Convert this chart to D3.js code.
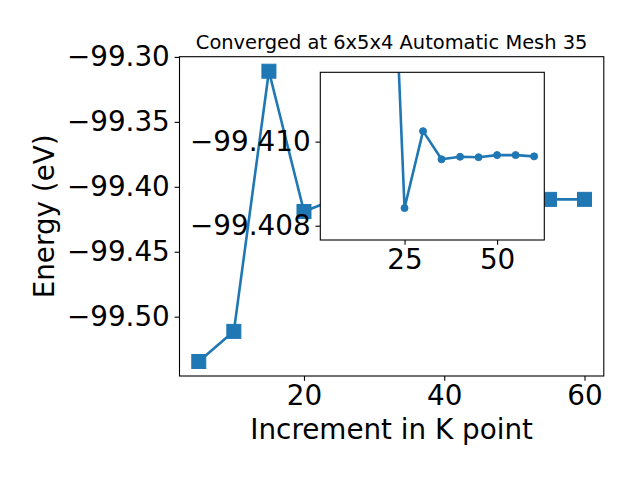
<!DOCTYPE html>
<html><head><meta charset="utf-8">
<script src="https://cdn.jsdelivr.net/npm/d3@7"></script>
<style>
body{margin:0;background:#fff}
text{font-family:"DejaVu Sans",sans-serif;fill:#000}
</style>
</head><body>
<svg id="c" width="640" height="480" xmlns="http://www.w3.org/2000/svg"></svg>
<script>
// ---- data ----
const kpoints = [5, 10, 15, 20, 25, 30, 35, 40, 45, 50, 55, 60];
const energies = [-99.5345, -99.5113, -99.3110, -99.4190, -99.40842, -99.41025,
                  -99.40958, -99.40964, -99.40963, -99.40968, -99.40968, -99.40965];
const insetFromK = 20;
const mainXTicks = [20, 40, 60];
const mainYTicks = [-99.30, -99.35, -99.40, -99.45, -99.50];
const insetXTicks = [25, 50];
const insetYTicks = [-99.410, -99.408];
const insetYLimits = [-99.41165, -99.40766]; // inverted: first at top
const titleText = "Converged at 6x5x4 Automatic Mesh 35";
const xLabel = "Increment in K point";
const yLabel = "Energy (eV)";

// ---- layout ----
const color = "#1f77b4";
const FS = 27.8, TICK = 4.86, PAD = 4.86;
const main = {l: 179.5, r: 603.8, t: 56.7, b: 376};
const ins = {l: 320.3, r: 544.3, t: 72.3, b: 240};

const data = kpoints.map((k, i) => ({k, e: energies[i]}));
const insetData = data.filter(d => d.k >= insetFromK);
const svg = d3.select("#c");

function margin(ext) { const d = (ext[1] - ext[0]) * 0.05; return [ext[0] - d, ext[1] + d]; }
const xDom = margin(d3.extent(kpoints));
const yDom = margin(d3.extent(energies));

const x = d3.scaleLinear().domain(xDom).range([main.l, main.r]);
const y = d3.scaleLinear().domain(yDom).range([main.b, main.t]);
const xi = d3.scaleLinear().domain(xDom).range([ins.l, ins.r]);
const yi = d3.scaleLinear().domain(insetYLimits).range([ins.t, ins.b]);

const defs = svg.append("defs");
defs.append("clipPath").attr("id", "clipMain").append("rect")
  .attr("x", main.l).attr("y", main.t).attr("width", main.r - main.l).attr("height", main.b - main.t);
defs.append("clipPath").attr("id", "clipIns").append("rect")
  .attr("x", ins.l).attr("y", ins.t).attr("width", ins.r - ins.l).attr("height", ins.b - ins.t);

function styleAxis(g) {
  g.select(".domain").remove();
  g.selectAll(".tick line").attr("stroke", "#000").attr("stroke-width", 1.1);
  g.selectAll(".tick text").attr("font-size", FS).attr("font-family", "DejaVu Sans").attr("fill", "#000");
}

// ---- main axes ----
const gm = svg.append("g");
gm.append("g").attr("clip-path", "url(#clipMain)").append("path")
  .datum(data)
  .attr("fill", "none").attr("stroke", color).attr("stroke-width", 2.6)
  .attr("stroke-linejoin", "round")
  .attr("d", d3.line().x(d => x(d.k)).y(d => y(d.e)));
gm.append("g").attr("clip-path", "url(#clipMain)").selectAll("rect").data(data).join("rect")
  .attr("x", d => x(d.k) - 7).attr("y", d => y(d.e) - 7)
  .attr("width", 14).attr("height", 14)
  .attr("fill", color).attr("stroke", color).attr("stroke-width", 1);
gm.append("rect").attr("x", main.l).attr("y", main.t)
  .attr("width", main.r - main.l).attr("height", main.b - main.t)
  .attr("fill", "none").attr("stroke", "#000").attr("stroke-width", 1.1);

gm.append("g").attr("transform", `translate(0,${main.b})`)
  .call(d3.axisBottom(x).tickValues(mainXTicks).tickSize(TICK).tickPadding(PAD).tickFormat(d3.format("d")))
  .call(styleAxis);
gm.append("g").attr("transform", `translate(${main.l},0)`)
  .call(d3.axisLeft(y).tickValues(mainYTicks).tickSize(TICK).tickPadding(PAD).tickFormat(d3.format(".2f")))
  .call(styleAxis);

svg.append("text").attr("x", (main.l + main.r) / 2).attr("y", 48.6)
  .attr("text-anchor", "middle").attr("font-size", 19.44).text(titleText);
svg.append("text").attr("x", (main.l + main.r) / 2).attr("y", 439.3)
  .attr("text-anchor", "middle").attr("font-size", FS).text(xLabel);
svg.append("text").attr("transform", `translate(54,${(main.t + main.b) / 2}) rotate(-90)`)
  .attr("text-anchor", "middle").attr("font-size", FS).text(yLabel);

// ---- inset axes ----
const gi = svg.append("g");
gi.append("rect").attr("x", ins.l).attr("y", ins.t)
  .attr("width", ins.r - ins.l).attr("height", ins.b - ins.t).attr("fill", "#fff");
const gic = gi.append("g").attr("clip-path", "url(#clipIns)");
gic.append("path").datum(insetData)
  .attr("fill", "none").attr("stroke", color).attr("stroke-width", 2.6)
  .attr("stroke-linejoin", "round")
  .attr("d", d3.line().x(d => xi(d.k)).y(d => yi(d.e)));
gic.selectAll("circle").data(insetData).join("circle")
  .attr("cx", d => xi(d.k)).attr("cy", d => yi(d.e)).attr("r", 3.5)
  .attr("fill", color).attr("stroke", color).attr("stroke-width", 1);
gi.append("rect").attr("x", ins.l).attr("y", ins.t)
  .attr("width", ins.r - ins.l).attr("height", ins.b - ins.t)
  .attr("fill", "none").attr("stroke", "#000").attr("stroke-width", 1.1);
gi.append("g").attr("transform", `translate(0,${ins.b})`)
  .call(d3.axisBottom(xi).tickValues(insetXTicks).tickSize(TICK).tickPadding(PAD).tickFormat(d3.format("d")))
  .call(styleAxis);
gi.append("g").attr("transform", `translate(${ins.l},0)`)
  .call(d3.axisLeft(yi).tickValues(insetYTicks).tickSize(TICK).tickPadding(PAD).tickFormat(d3.format(".3f")))
  .call(styleAxis);
</script>
</body></html>
